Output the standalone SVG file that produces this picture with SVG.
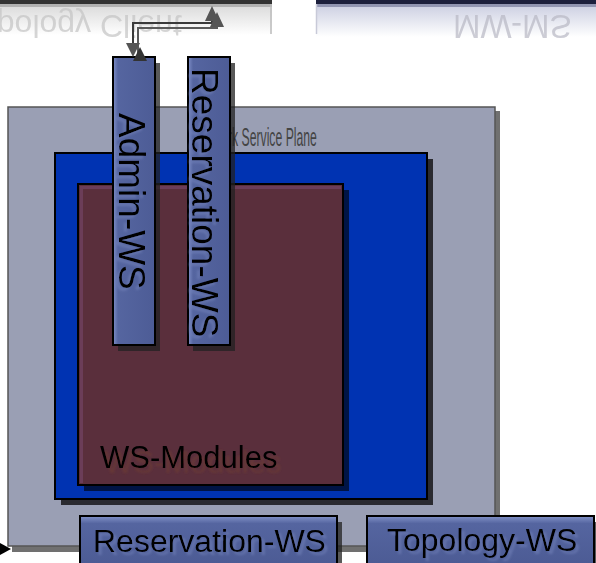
<svg xmlns="http://www.w3.org/2000/svg" width="596" height="563" viewBox="0 0 596 563">
<defs>
<linearGradient id="reflL" x1="0" y1="0" x2="0" y2="1">
<stop offset="0" stop-color="#d8d8d8"/><stop offset="1" stop-color="#ffffff"/>
</linearGradient>
<linearGradient id="reflR" x1="0" y1="0" x2="0" y2="1">
<stop offset="0" stop-color="#c9cce0"/><stop offset="1" stop-color="#ffffff"/>
</linearGradient>
<linearGradient id="wsV" x1="0" y1="0" x2="1" y2="0">
<stop offset="0" stop-color="#7f8fc8"/><stop offset="0.12" stop-color="#5565a0"/><stop offset="1" stop-color="#4d5c96"/>
</linearGradient>
<linearGradient id="wsH" x1="0" y1="0" x2="0" y2="1">
<stop offset="0" stop-color="#8393c8"/><stop offset="0.15" stop-color="#5565a0"/><stop offset="1" stop-color="#4c5b94"/>
</linearGradient>
<filter id="ghostBlue" x="-10%" y="-10%" width="130%" height="130%">
<feDropShadow dx="3" dy="3" stdDeviation="0.8" flood-color="#7080b8" flood-opacity="0.6"/>
</filter>
<filter id="ghostBrown" x="-10%" y="-10%" width="130%" height="130%">
<feDropShadow dx="4" dy="5" stdDeviation="0.8" flood-color="#6e3a36" flood-opacity="0.6"/>
</filter>
<filter id="soft" x="-5%" y="-20%" width="110%" height="140%">
<feGaussianBlur stdDeviation="0.7"/>
</filter>
</defs>
<style>
.sans{font-family:"Liberation Sans",Arial,sans-serif}
.box{stroke:#000;stroke-width:2}
.shadow{fill:#222;opacity:0.75}
.ws{font-family:"Liberation Sans",Arial,sans-serif;font-size:32px;fill:#000;filter:url(#ghostBlue)}
.wsv{font-family:"Liberation Sans",Arial,sans-serif;font-size:37px;fill:#000;filter:url(#ghostBlue)}
.conn{fill:none;stroke:#3a3a3a;stroke-width:2}
.conn2{fill:none;stroke:#5a5a5a;stroke-width:2}
.head{fill:#555}
.head2{fill:#333}
.refl{font-family:"Liberation Sans",Arial,sans-serif;opacity:0.7;filter:url(#soft)}
</style>
<rect width="596" height="563" fill="#fff"/>

<g id="topology-client-reflection">
<rect x="0" y="3" width="272" height="32" fill="url(#reflL)"/>
<text class="refl" transform="translate(0,5) scale(1,-1)" x="-37" y="-10" font-size="32" fill="#c4c4c4">Topology Client</text>
<rect x="0" y="0" width="272" height="4" fill="#333"/>
<rect x="0" y="4" width="272" height="3" fill="#888" opacity="0.5"/>
<line x1="271" y1="4" x2="271" y2="34" stroke="#bbb" stroke-width="1.5"/>
</g>

<g id="nm-ws-reflection">
<rect x="316" y="3" width="280" height="34" fill="url(#reflR)"/>
<text class="refl" transform="translate(0,5) scale(1,-1)" x="453" y="-10" font-size="33" fill="#b8b8c4">MW-MS</text>
<rect x="316" y="0" width="280" height="4" fill="#1c1f3c"/>
<rect x="316" y="4" width="280" height="3" fill="#555a80" opacity="0.5"/>
<line x1="316.5" y1="4" x2="316.5" y2="34" stroke="#c8cad8" stroke-width="1.5"/>
</g>

<g id="service-plane">
<rect x="12" y="111" width="488" height="441" fill="#333" opacity="0.7"/>
<rect x="8" y="107" width="487" height="439" fill="#9a9fb4" stroke="#555" stroke-width="1.5"/>
<text class="sans" transform="translate(238,146) scale(0.47,1)" x="-95" y="0" font-size="26" fill="#444">Network Service Plane</text>
</g>

<g id="blue-box">
<rect x="61" y="159" width="372" height="346" fill="#2a2a30"/>
<rect x="55" y="153" width="372" height="346" fill="#0033b2" class="box"/>
</g>

<g id="ws-modules">
<rect x="84" y="190" width="265" height="301" fill="#001445"/>
<rect x="78" y="184" width="265" height="301" fill="#5a2f3c" class="box"/>
<rect x="80" y="186" width="261" height="3" fill="#6b3d58"/>
<rect x="80" y="186" width="3" height="297" fill="#6b3d58"/>
<text class="sans" x="100" y="468" font-size="31" fill="#000" filter="url(#ghostBrown)">WS-Modules</text>
</g>

<g id="admin-ws">
<rect x="118" y="63" width="42" height="288" class="shadow"/>
<rect x="113" y="57" width="42" height="288" fill="url(#wsV)" class="box"/>
<text class="wsv" transform="translate(119,113) rotate(90)">Admin-WS</text>
</g>

<g id="reservation-ws-top">
<rect x="193" y="63" width="42" height="288" class="shadow"/>
<rect x="188" y="57" width="42" height="288" fill="url(#wsV)" class="box"/>
<text class="wsv" transform="translate(192,68) rotate(90)">Reservation-WS</text>
</g>

<g id="reservation-ws-bottom">
<rect x="85" y="522" width="257" height="46" class="shadow"/>
<rect x="80" y="516" width="257" height="50" fill="url(#wsH)" class="box"/>
<text class="ws" x="93" y="552">Reservation-WS</text>
</g>

<g id="topology-ws">
<rect x="372" y="522" width="227" height="46" class="shadow"/>
<rect x="367" y="516" width="227" height="50" fill="url(#wsH)" class="box"/>
<text class="ws" x="387" y="551">Topology-WS</text>
</g>

<g id="connectors">
<path class="conn2" d="M138 58 V28 H217 V24"/>
<path class="conn" d="M133 53 V23 H212 V19"/>
<polygon class="head" points="210,27 224,27 217,12"/>
<polygon class="head" points="205,21 219,21 212,6"/>
<polygon class="head2" points="133,61 147,61 140,47"/>
<polygon class="head" points="126,43 140,43 133,57"/>
<polygon points="0,543 11,549 0,555" fill="#000"/>
</g>
</svg>
